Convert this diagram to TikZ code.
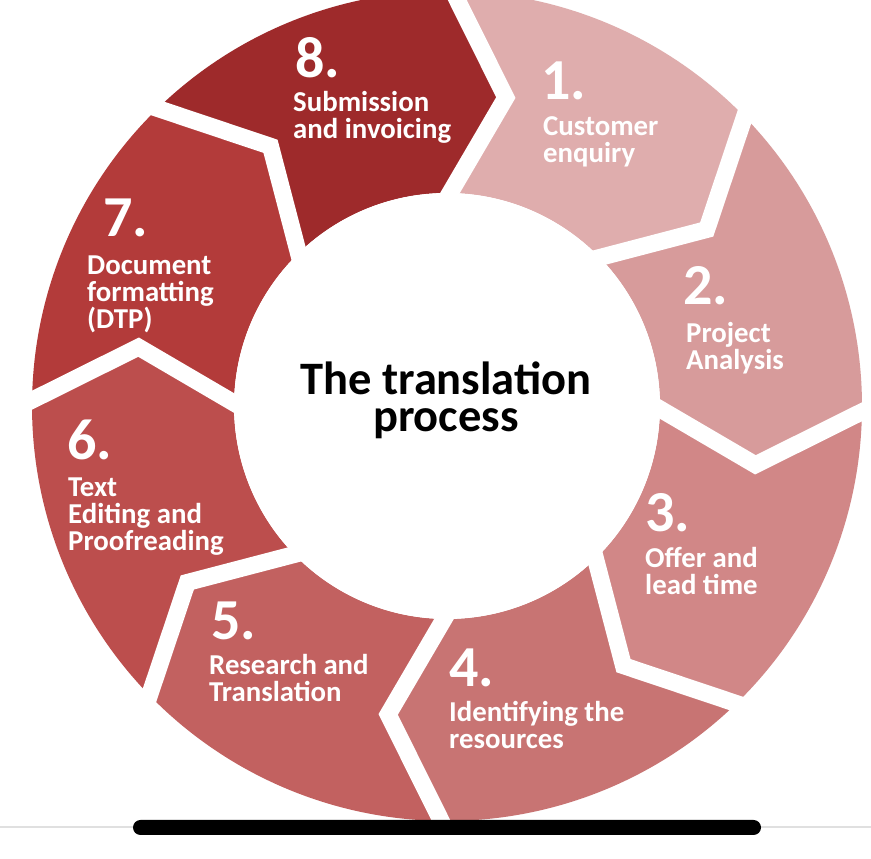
\documentclass[tikz,border=0pt]{standalone}
\usepackage{fontspec}
\setmainfont{Carlito}
\usetikzlibrary{calc}
\definecolor{c1}{HTML}{DFADAD}
\definecolor{c2}{HTML}{D79B9B}
\definecolor{c3}{HTML}{D18787}
\definecolor{c4}{HTML}{C87473}
\definecolor{c5}{HTML}{C26160}
\definecolor{c6}{HTML}{BC4E4D}
\definecolor{c7}{HTML}{B33B3A}
\definecolor{c8}{HTML}{9E2A2B}
\def\Ro{415pt}
\def\Ri{213pt}
\def\Rm{314pt}
\tikzset{
  gap/.style={draw=white, line width=17pt, line join=miter},
  num/.style={anchor=base west, inner sep=0pt, text=white, font=\bfseries\fontsize{58}{58}\selectfont},
  lab/.style={anchor=base west, inner sep=0pt, text=white, align=left, font=\bfseries\fontsize{28.8}{27}\selectfont},
  ttl/.style={anchor=base, inner sep=0pt, text=black, align=center, font=\bfseries\fontsize{46.5}{37}\selectfont}
}
\begin{document}
\begin{tikzpicture}[x=1pt,y=1pt]
\fill[white] (0,0) rectangle (871,859);
\useasboundingbox (0,0) rectangle (871,859);
\clip (0,0) rectangle (871,859);
\draw[black!12, line width=2pt] (0,32) -- (871,32);
\begin{scope}[shift={(447,453)}]
  \foreach \k/\col in {1/c1,2/c2,3/c3,4/c4,5/c5,6/c6,7/c7,8/c8} {
    \pgfmathsetmacro\a{90-45*(\k-1)-0.8}
    \pgfmathsetmacro\b{\a-45}
    \fill[\col] (\a:\Ro) arc[start angle=\a, end angle=\b, radius=\Ro]
      -- (\b-10:\Rm) -- (\b:\Ri) arc[start angle=\b, end angle=\a, radius=\Ri]
      -- (\a-10:\Rm) -- cycle;
  }
  \foreach \k in {1,...,8} {
    \pgfmathsetmacro\a{90-45*(\k-1)-0.8}
    \draw[gap] ($(\a:\Ro)!-0.3!(\a-10:\Rm)$) -- (\a:\Ro) -- (\a-10:\Rm) -- (\a:\Ri) -- ($(\a:\Ri)!-0.3!(\a-10:\Rm)$);
  }
  \fill[white] (0,0) circle[radius=\Ri];
\end{scope}
\fill[black, rounded corners=7.5pt] (133,24) rectangle (761,39);
% multi-line nodes: base anchor = baseline of the last line
\node[ttl] (title) at (446,427) {The translation\\process};
\node[num] (n8) at (295,781) {8.};
\node[lab] (l8) at (293,720) {Submission\\and invoicing};
\node[num] (n1) at (541,759) {1.};
\node[lab] (l1) at (543,696) {Customer\\enquiry};
\node[num] (n2) at (683,554) {2.};
\node[lab] (l2) at (686,489) {Project\\Analysis};
\node[num] (n3) at (645,327) {3.};
\node[lab] (l3) at (645,264) {Offer and\\lead time};
\node[num] (n4) at (449,172) {4.};
\node[lab] (l4) at (449,110) {Identifying the\\resources};
\node[num] (n5) at (211,219) {5.};
\node[lab] (l5) at (209,157) {Research and\\Translation};
\node[num] (n6) at (67,399) {6.};
\node[lab] (l6) at (68,308) {Text\\Editing and\\Proofreading};
\node[num] (n7) at (103,622) {7.};
\node[lab] (l7) at (87,530) {Document\\formatting\\(DTP)};
\end{tikzpicture}
\end{document}
